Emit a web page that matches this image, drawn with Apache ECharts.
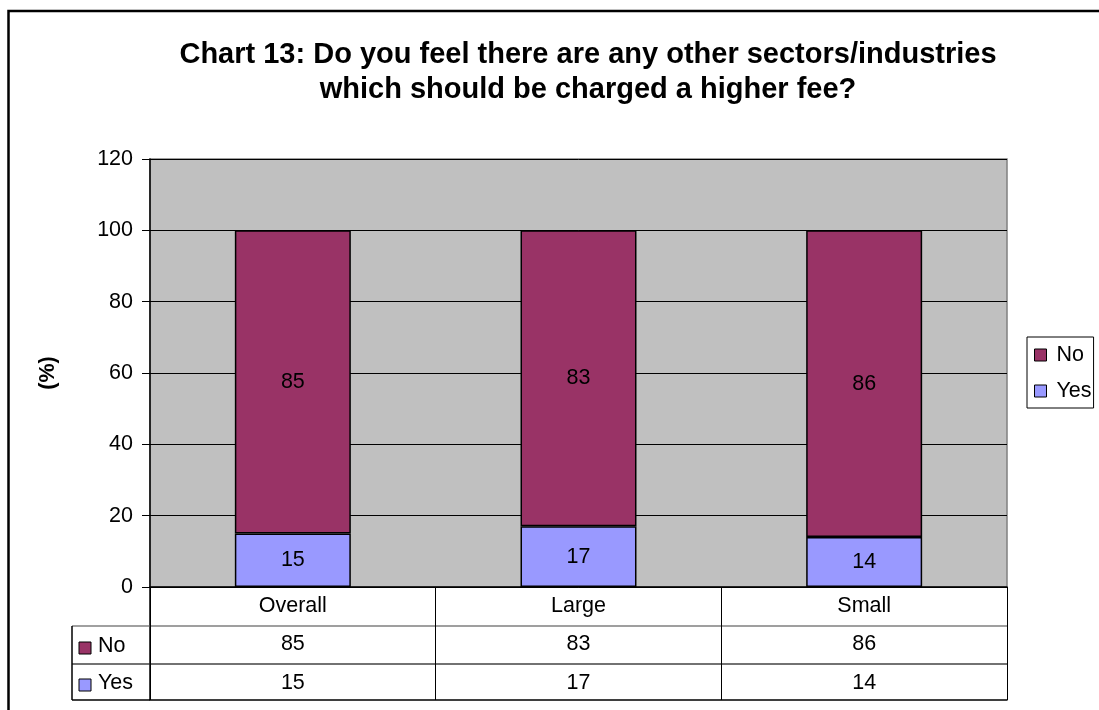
<!DOCTYPE html>
<html><head><meta charset="utf-8">
<script src="https://cdn.jsdelivr.net/npm/echarts@6/dist/echarts.min.js"></script>
<style>html,body{margin:0;padding:0;background:#fff}#c{width:1099px;height:710px}</style>
</head><body><div id="c"></div>
<script>
const titleText = 'Chart 13: Do you feel there are any other sectors/industries\nwhich should be charged a higher fee?';
const categories = ['Overall', 'Large', 'Small'];
const yesValues = [15, 17, 14];
const noValues = [85, 83, 86];
const seriesNames = ['No', 'Yes'];
const yTicks = [0, 20, 40, 60, 80, 100, 120];

const FONT = 'Liberation Sans, Arial, sans-serif';
const FS = 21.5;
const colNo = '#993366', colYes = '#9999FF';
const chart = echarts.init(document.getElementById('c'));

const gridL = 150, gridT = 159, gridR = 92, gridB = 123;

function tableAxis(offset, tickLen, lineColor, margin, formatter) {
  return {
    type: 'category', data: categories, position: 'bottom', offset: offset, gridIndex: 0,
    axisLine: { show: true, lineStyle: { color: lineColor, width: 1.5 } },
    axisTick: { show: true, alignWithLabel: false, length: tickLen, inside: false, lineStyle: { color: '#000', width: 1 } },
    axisLabel: { show: true, color: '#000', fontSize: FS, fontFamily: FONT, margin: margin, formatter: formatter },
    splitLine: { show: false }
  };
}

const option = {
  animation: false,
  backgroundColor: '#fff',
  title: {
    text: titleText, left: 583, top: 32, textAlign: 'center',
    textStyle: { fontSize: 29, fontWeight: 'bold', fontFamily: FONT, color: '#000', lineHeight: 35 }
  },
  grid: { left: gridL, top: gridT, right: gridR, bottom: gridB, show: true, backgroundColor: '#C0C0C0', borderColor: '#808080', borderWidth: 1.5 },
  legend: {
    orient: 'vertical', left: 1027, top: 337, data: seriesNames,
    icon: 'rect', itemWidth: 12, itemHeight: 12, itemGap: 14,
    itemStyle: { borderColor: '#000', borderWidth: 1 },
    textStyle: { fontSize: FS, fontFamily: FONT, color: '#000', padding: [0, 0, 0, 5] },
    borderColor: '#000', borderWidth: 1, padding: [7, 2, 6, 7], backgroundColor: '#fff'
  },
  xAxis: [
    tableAxis(0, 39, '#000', 8, null),
    tableAxis(39, 38, '#808080', 7, function (v, i) { return String(noValues[i]); }),
    tableAxis(77, 36, '#444', 8, function (v, i) { return String(yesValues[i]); }),
    {
      type: 'category', data: categories, position: 'bottom', offset: 113,
      axisLine: { show: true, lineStyle: { color: '#000', width: 1.5 } },
      axisTick: { show: false }, axisLabel: { show: false }
    }
  ],
  yAxis: {
    type: 'value', min: yTicks[0], max: yTicks[yTicks.length - 1], interval: 20,
    name: '(%)', nameLocation: 'middle', nameGap: 91, nameRotate: 90,
    nameTextStyle: { fontSize: FS, fontWeight: 'bold', fontFamily: FONT, color: '#000' },
    axisLine: { show: true, lineStyle: { color: '#000', width: 1.5 } },
    axisTick: { show: true, inside: false, length: 8, lineStyle: { color: '#000' } },
    axisLabel: { color: '#000', fontSize: FS, fontFamily: FONT, margin: 17 },
    splitLine: { show: true, lineStyle: { color: '#000', width: 1 } }
  },
  series: [
    {
      name: 'Yes', type: 'bar', stack: 'a', data: yesValues, barWidth: '40.6%', xAxisIndex: 0,
      itemStyle: { color: colYes, borderColor: '#000', borderWidth: 1.5 },
      label: { show: true, position: 'inside', color: '#000', fontSize: FS, fontFamily: FONT }
    },
    {
      name: 'No', type: 'bar', stack: 'a', data: noValues, barWidth: '40.6%', xAxisIndex: 0,
      itemStyle: { color: colNo, borderColor: '#000', borderWidth: 1.5 },
      label: { show: true, position: 'inside', color: '#000', fontSize: FS, fontFamily: FONT }
    }
  ],
  graphic: [
    { type: 'rect', shape: { x: 8.5, y: 11, width: 1300, height: 900 }, style: { fill: null, stroke: '#000', lineWidth: 2.5 }, silent: true, z: 100 },
    { type: 'line', shape: { x1: 72, y1: 626, x2: 150, y2: 626 }, style: { stroke: '#808080', lineWidth: 1.5 } },
    { type: 'line', shape: { x1: 72, y1: 664, x2: 150, y2: 664 }, style: { stroke: '#444', lineWidth: 1.5 } },
    { type: 'line', shape: { x1: 72, y1: 700, x2: 150, y2: 700 }, style: { stroke: '#000', lineWidth: 1.5 } },
    { type: 'line', shape: { x1: 72, y1: 626, x2: 72, y2: 700 }, style: { stroke: '#000', lineWidth: 1.5 } },
    { type: 'line', shape: { x1: 150, y1: 587, x2: 150, y2: 700 }, style: { stroke: '#000', lineWidth: 1.5 } },
    { type: 'rect', shape: { x: 79, y: 642, width: 12, height: 12 }, style: { fill: colNo, stroke: '#000', lineWidth: 1 } },
    { type: 'text', left: 98, top: 635, style: { text: seriesNames[0], fontSize: FS, fontFamily: FONT, fill: '#000' } },
    { type: 'rect', shape: { x: 79, y: 679, width: 12, height: 12 }, style: { fill: colYes, stroke: '#000', lineWidth: 1 } },
    { type: 'text', left: 98, top: 672, style: { text: seriesNames[1], fontSize: FS, fontFamily: FONT, fill: '#000' } }
  ]
};
chart.setOption(option);
</script></body></html>
